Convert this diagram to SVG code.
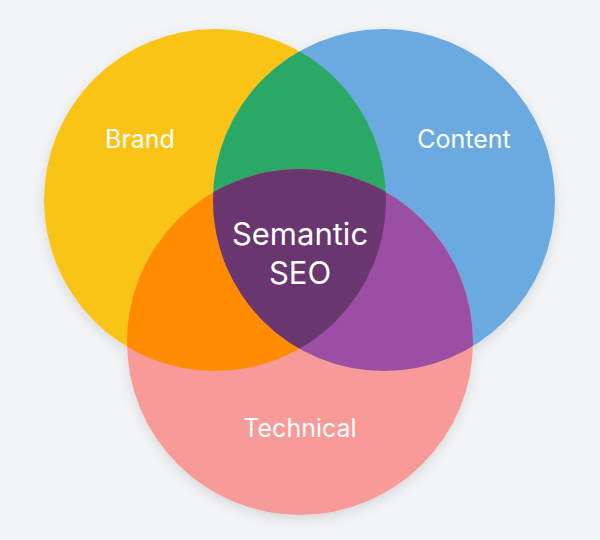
<svg xmlns="http://www.w3.org/2000/svg" width="600" height="540" viewBox="0 0 600 540">
<style>
text{font-family:"Inter","Noto Sans",sans-serif;fill:#fff;text-anchor:middle}
.l{font-size:25px}.c{font-size:31px}
</style>
<defs>
<clipPath id="cb"><circle cx="215" cy="200" r="171"/></clipPath>
<clipPath id="cc"><circle cx="384" cy="200" r="171"/></clipPath>
<clipPath id="ct"><circle cx="300" cy="342" r="173"/></clipPath>
<filter id="sh" x="-20%" y="-20%" width="140%" height="140%"><feDropShadow dx="0" dy="4" stdDeviation="6" flood-color="#000" flood-opacity="0.12"/></filter>
</defs>
<rect width="600" height="540" fill="#F2F4F6"/>
<g filter="url(#sh)">
<g id="brand"><circle cx="215" cy="200" r="171" fill="#F9C414"/></g>
<g id="content"><circle cx="384" cy="200" r="171" fill="#6AAAE0"/></g>
<g id="technical"><circle cx="300" cy="342" r="173" fill="#F89A98"/></g>
</g>
<g clip-path="url(#cb)"><circle cx="384" cy="200" r="171" fill="#2AA866"/><circle cx="300" cy="342" r="173" fill="#FF8C00"/></g>
<g clip-path="url(#cc)"><circle cx="300" cy="342" r="173" fill="#9A4FA5"/></g>
<g id="semantic" clip-path="url(#cb)"><g clip-path="url(#cc)"><circle cx="300" cy="342" r="173" fill="#6A3670"/></g></g>
<g id="labels">
<text class="l" x="140" y="148">Brand</text>
<text class="l" x="464" y="148">Content</text>
<text class="l" x="300" y="437">Technical</text>
<text class="c" x="300" y="245">Semantic</text>
<text class="c" x="300" y="284">SEO</text>
</g>
</svg>
